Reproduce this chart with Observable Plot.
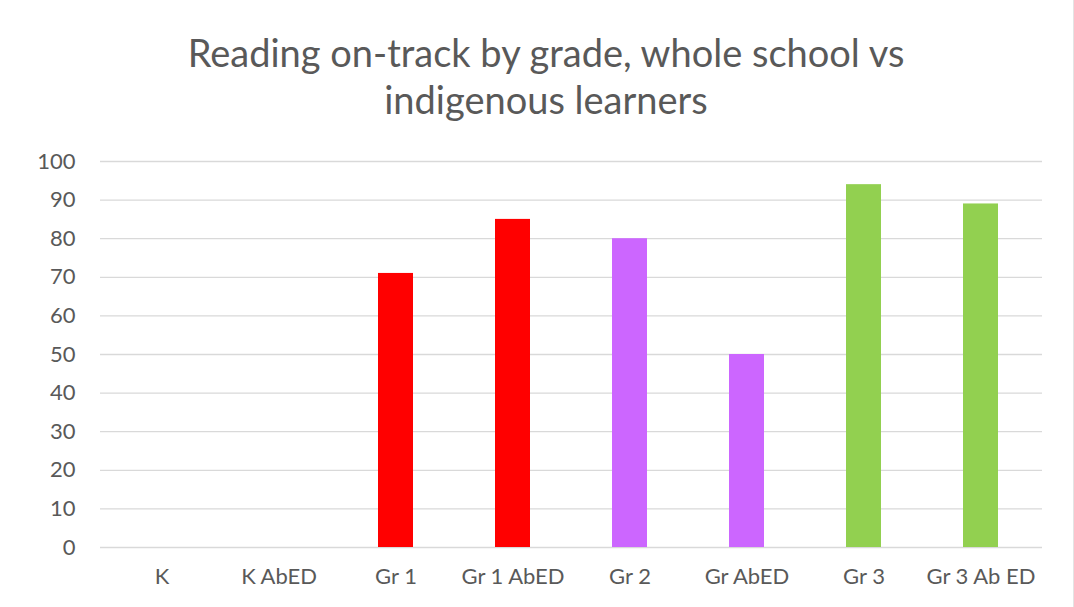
<!DOCTYPE html>
<html>
<head>
<meta charset="utf-8">
<script src="https://cdn.jsdelivr.net/npm/d3@7"></script>
<script src="https://cdn.jsdelivr.net/npm/@observablehq/plot@0.6"></script>
<style>
  html, body { margin: 0; padding: 0; background: #fff; }
  #wrap { width: 1074px; height: 607px; position: relative; overflow: hidden; background: #fff; }
  #title { box-sizing: border-box; height: 130px; padding-top: 29px; padding-left: 18px; text-align: center;
           font-family: Lato, "Open Sans", sans-serif; font-size: 38px; line-height: 47px; color: #595959; }
  #border { position: absolute; right: 0; top: 0; width: 1px; height: 607px; background: #e4e4e4; }
</style>
</head>
<body>
<div id="wrap">
  <div id="title">Reading on-track by grade, whole school vs<br>indigenous learners</div>
  <div id="chart"></div>
  <div id="border"></div>
</div>
<script>
const categories = ["K", "K AbED", "Gr 1", "Gr 1 AbED", "Gr 2", "Gr AbED", "Gr 3", "Gr 3 Ab ED"];
const values = [null, null, 71, 85, 80, 50, 94, 89];
const groups = ["K", "K", "Gr 1", "Gr 1", "Gr 2", "Gr 2", "Gr 3", "Gr 3"];
const groupNames = ["K", "Gr 1", "Gr 2", "Gr 3"];
const groupColors = ["#FF0000", "#FF0000", "#CC66FF", "#92D050"];
const yTicks = [0, 10, 20, 30, 40, 50, 60, 70, 80, 90, 100];

const data = categories.map((c, i) => ({category: c, value: values[i], group: groups[i]}));

const chart = Plot.plot({
  width: 1074,
  height: 477,
  marginTop: 31,
  marginBottom: 60,
  marginLeft: 100,
  marginRight: 32,
  style: {fontFamily: "Lato, 'Open Sans', sans-serif", fontSize: "22px", color: "#595959", background: "#fff"},
  x: {domain: categories, paddingInner: 0.7, paddingOuter: 0.35, label: null, tickSize: 0, tickPadding: 21},
  y: {domain: [0, 100], ticks: yTicks, label: null, tickSize: 0, tickPadding: 25},
  color: {domain: groupNames, range: groupColors},
  marks: [
    Plot.ruleY(yTicks, {stroke: "#d9d9d9", strokeWidth: 1.3}),
    Plot.barY(data.filter(d => d.value != null), {x: "category", y: "value", fill: "group"})
  ]
});
document.getElementById("chart").appendChild(chart);
</script>
</body>
</html>
